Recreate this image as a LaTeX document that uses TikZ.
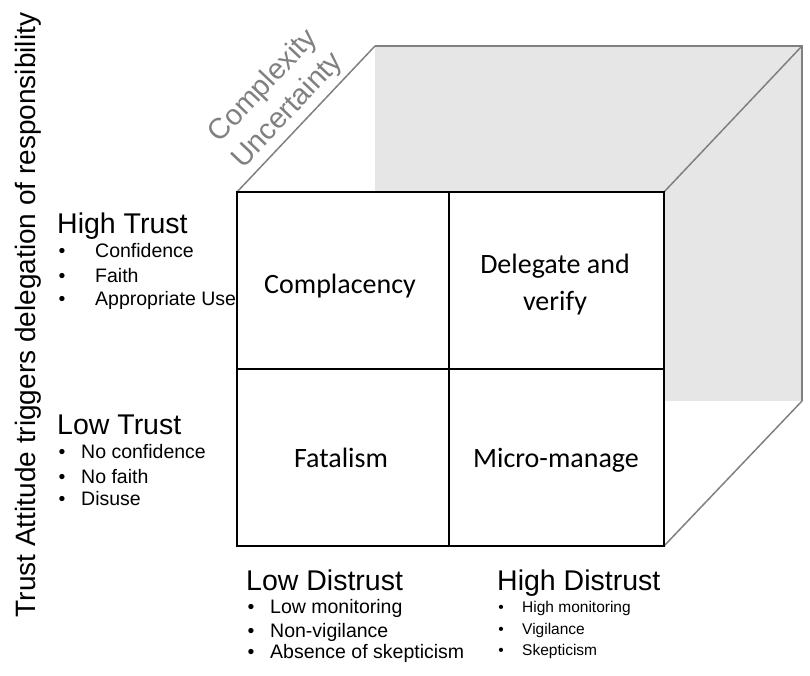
\documentclass[tikz,border=0pt]{standalone}
\usepackage{fontspec}
\setmainfont{Liberation Sans}
\newfontfamily\cellfont{Carlito}
\definecolor{edgegray}{HTML}{808080}
\definecolor{facegray}{HTML}{E6E6E6}
\begin{document}
\begin{tikzpicture}[x=1pt,y=-1pt,
  frontline/.style={line width=1.5pt,draw=black},
  backline/.style={line width=1.5pt,draw=edgegray},
  celltext/.style={font=\cellfont\fontsize{28}{37}\selectfont,inner sep=0pt,align=center},
  heading/.style={font=\fontsize{28.5}{34}\selectfont,inner sep=0pt,anchor=base west},
  item/.style={font=\fontsize{19.5}{23}\selectfont,inner sep=0pt,anchor=base west},
  smallitem/.style={font=\fontsize{15.5}{19}\selectfont,inner sep=0pt,anchor=base west},
  dot/.style={inner sep=0pt,anchor=base},
  depthtext/.style={font=\fontsize{29}{34}\selectfont,text=edgegray,rotate=46.6,inner sep=0pt}]
\useasboundingbox (0,0) rectangle (810,675);

% cube corners
\coordinate (bTL) at (375,46);
\coordinate (bTR) at (802,46);
\coordinate (bBR) at (802,401);
\coordinate (fTL) at (237,192);
\coordinate (fTR) at (664,192);
\coordinate (fBR) at (664,546);
\coordinate (fBL) at (237,546);
\coordinate (mT) at (449,192);
\coordinate (mB) at (449,546);
\coordinate (mL) at (237,369);
\coordinate (mR) at (664,369);

% back face and receding edges
\fill[facegray] (bTL) rectangle (bBR);
\draw[backline] (bTL) -- (bTR) -- (bBR);
\draw[backline] (fTL) -- (bTL) (fTR) -- (bTR) (fBR) -- (bBR);

% front face split into four quadrants
\filldraw[frontline,fill=white] (fTL) rectangle (fBR);
\draw[frontline] (mT) -- (mB) (mL) -- (mR);

% quadrant labels
\node[celltext,anchor=base] (complacency) at (340,293) {Complacency};
\node[celltext] (delegate) at (555,285) {Delegate and\\verify};
\node[celltext,anchor=base] (fatalism) at (341,467) {Fatalism};
\node[celltext,anchor=base] (micro) at (556,467) {Micro-manage};

% vertical axis title
\node[font=\fontsize{28}{34}\selectfont,rotate=90,inner sep=0pt] (axis) at (28,315)
  {Trust Attitude triggers delegation of responsibility};

% depth axis title, one line each
\node[depthtext] (complexity) at (263.5,86.5) {Complexity};
\node[depthtext] (uncertainty) at (288,111) {Uncertainty};

% high trust
\node[heading] (hightrust) at (57,233) {High Trust};
\node[item,dot] (ht1b) at (62,257) {•};
\node[item] (ht1) at (95,257) {Confidence};
\node[item,dot] (ht2b) at (62,282) {•};
\node[item] (ht2) at (95,282) {Faith};
\node[item,dot] (ht3b) at (62,305) {•};
\node[item] (ht3) at (95,305) {Appropriate Use};

% low trust
\node[heading] (lowtrust) at (57,434) {Low Trust};
\node[item,dot] (lt1b) at (62,458) {•};
\node[item] (lt1) at (81,458) {No confidence};
\node[item,dot] (lt2b) at (62,483) {•};
\node[item] (lt2) at (81,483) {No faith};
\node[item,dot] (lt3b) at (62,505) {•};
\node[item] (lt3) at (81,505) {Disuse};

% low distrust
\node[heading] (lowdistrust) at (246,590) {Low Distrust};
\node[item,dot] (ld1b) at (251,613) {•};
\node[item] (ld1) at (270,613) {Low monitoring};
\node[item,dot] (ld2b) at (251,637) {•};
\node[item] (ld2) at (270,637) {Non-vigilance};
\node[item,dot] (ld3b) at (251,658) {•};
\node[item] (ld3) at (270,658) {Absence of skepticism};

% high distrust
\node[heading] (highdistrust) at (497,590) {High Distrust};
\node[smallitem,dot] (hd1b) at (501,612) {•};
\node[smallitem] (hd1) at (522,612) {High monitoring};
\node[smallitem,dot] (hd2b) at (501,634) {•};
\node[smallitem] (hd2) at (522,634) {Vigilance};
\node[smallitem,dot] (hd3b) at (501,655) {•};
\node[smallitem] (hd3) at (522,655) {Skepticism};
\end{tikzpicture}
\end{document}
